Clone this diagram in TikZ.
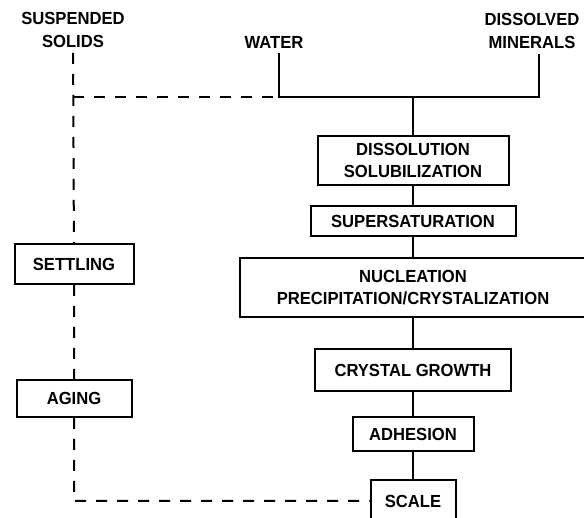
\documentclass[tikz,border=0pt]{standalone}
\usepackage{fontspec}
\setmainfont[FakeStretch=0.95]{Liberation Sans}
\begin{document}
\begin{tikzpicture}
    [x=1pt,y=-1pt,line width=2pt,
     stage/.style={draw,align=center,inner sep=0pt,font=\bfseries\fontsize{17.5}{22.5}\selectfont},
     label/.style={align=center,inner sep=4pt,font=\bfseries\fontsize{17.5}{23.5}\selectfont},
     dashline/.style={dash pattern=on 11pt off 10pt}]

    \useasboundingbox (0,0) rectangle (584,518);

    \node[label] (susp) at (73,30) {SUSPENDED\\SOLIDS};
    \node[label] (water) at (274,42) {WATER};
    \node[label] (dissolved) at (532,31) {DISSOLVED\\MINERALS};

    \foreach \name/\y/\w/\h/\text in {diss/160.5/191/49/{DISSOLUTION\\SOLUBILIZATION},
        super/221/205/30/SUPERSATURATION, nucl/287.5/346/59/{NUCLEATION\\PRECIPITATION/CRYSTALIZATION},
        cryst/370/196/42/CRYSTAL GROWTH, adh/434/121/34/ADHESION, scale/501/85/42/SCALE}
      \node[stage,minimum width=\w,minimum height=\h] (\name) at (413,\y) {\text};

    \foreach \name/\y/\w/\h/\text in {settling/264/119/40/SETTLING, aging/398.5/115/37/AGING}
      \node[stage,minimum width=\w,minimum height=\h] (\name) at (74,\y) {\text};

    \coordinate (join) at (279,97);
    \coordinate (hub) at (413,97);
    \coordinate (corner) at (539,97);

    \draw (join |- water.south) -- (join) -- (corner) -- (corner |- dissolved.south);
    \draw (hub) -- (diss) -- (super) -- (nucl) -- (cryst) -- (adh) -- (scale);

    \draw[dashline] (susp) -- (settling) -- (aging) |- (scale);
    \draw[dashline] (susp |- hub) -- (join);
  \end{tikzpicture}
\end{document}
